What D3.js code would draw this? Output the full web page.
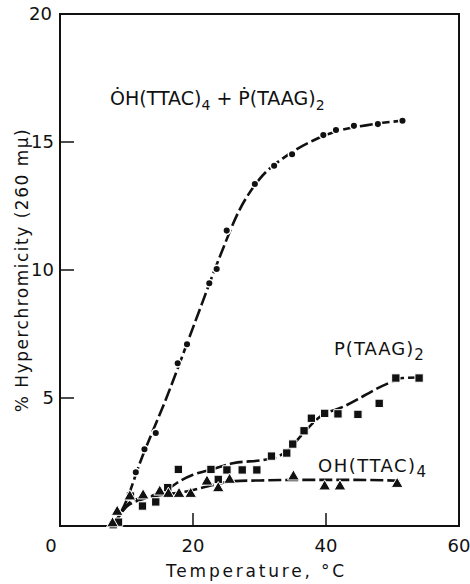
<!DOCTYPE html>
<html>
<head>
<meta charset="utf-8">
<script src="https://cdn.jsdelivr.net/npm/d3@7"></script>
<style>
  body { margin: 0; background: #fff; }
  text { font-family: "DejaVu Sans", sans-serif; fill: #111; }
</style>
</head>
<body>
<svg id="chart" width="470" height="584"></svg>
<script>
// measured points, [temperature °C, % hyperchromicity]
const mixPoints = [[8.0, 0.05], [11.4, 2.1], [12.7, 3.0], [14.4, 3.63], [17.7, 6.36], [19.1, 7.1],
  [22.45, 9.48], [23.56, 10.04], [25.07, 11.54], [29.3, 13.36], [32.2, 14.07], [34.9, 14.52],
  [39.6, 15.27], [41.5, 15.47], [44.2, 15.63], [47.8, 15.7], [51.5, 15.83]];
const taagPoints = [[8.0, 0.05], [8.8, 0.15], [10.6, 1.17], [12.4, 0.78], [14.4, 0.94], [16.2, 1.5],
  [17.8, 2.21], [22.7, 2.21], [23.8, 1.82], [25.1, 2.19], [27.4, 2.19], [29.6, 2.19],
  [31.8, 2.73], [34.1, 2.85], [35.0, 3.2], [36.7, 3.72], [37.8, 4.21], [39.8, 4.4],
  [41.8, 4.38], [44.8, 4.36], [48.0, 4.79], [50.5, 5.78], [54.0, 5.78]];
const ttacPoints = [[7.9, 0.1], [8.6, 0.55], [10.5, 1.15], [12.5, 1.19], [15.0, 1.34], [16.3, 1.25],
  [17.9, 1.25], [19.65, 1.25], [22.1, 1.73], [23.8, 1.47], [25.5, 1.8], [35.1, 1.93],
  [39.8, 1.54], [42.1, 1.54], [50.7, 1.64]];

// hand drawn fit curves
const mixFit = [[8, 0], [10, 1.0], [12, 2.45], [16, 5.0], [20, 7.75], [24, 10.5], [27, 12.35],
  [30, 13.55], [34, 14.45], [38, 15.05], [42, 15.45], [46, 15.65], [52, 15.85]];
const taagFit = [[8, 0], [10, 0.75], [13, 1.1], [16, 1.4], [18, 1.75], [20, 2.0], [22.7, 2.2],
  [26, 2.45], [31, 2.6], [34, 2.9], [36.5, 3.6], [39, 4.25], [42.6, 4.66], [49.6, 5.6],
  [51.5, 5.78], [54, 5.8]];
const ttacFit = [[8, 0], [11, 1.0], [15, 1.2], [19, 1.35], [23, 1.6], [26, 1.75], [30, 1.78],
  [36, 1.8], [44, 1.8], [51, 1.77]];

const xTicks = [0, 20, 40, 60];
const yTicks = [5, 10, 15, 20];

const svg = d3.select('#chart');
const margin = { left: 60, right: 11, top: 14, bottom: 58 };
const width = 470 - margin.left - margin.right;
const height = 584 - margin.top - margin.bottom;

const x = d3.scaleLinear().domain([0, 60]).range([0, width]);
const y = d3.scaleLinear().domain([0, 20]).range([height, 0]);

const g = svg.append('g').attr('transform', `translate(${margin.left},${margin.top})`);

// frame
g.append('rect')
    .attr('width', width).attr('height', height)
    .attr('fill', 'none').attr('stroke', '#111').attr('stroke-width', 2);

// inward ticks
g.selectAll('.ytick').data(yTicks.filter(d => d < 20)).enter()
    .append('line')
    .attr('x1', 0).attr('x2', 14)
    .attr('y1', d => y(d)).attr('y2', d => y(d))
    .attr('stroke', '#111').attr('stroke-width', 1.5);

g.selectAll('.xtick').data(xTicks.filter(d => d > 0 && d < 60)).enter()
    .append('line')
    .attr('x1', d => x(d)).attr('x2', d => x(d))
    .attr('y1', height).attr('y2', height - 13)
    .attr('stroke', '#111').attr('stroke-width', 1.5);

// tick labels
g.selectAll('.ylab').data(yTicks).enter()
    .append('text')
    .attr('x', d => d === 20 ? -8 : -6).attr('y', d => y(d) + 6)
    .attr('text-anchor', 'end')
    .style('font-size', '18px')
    .text(d => d);

g.selectAll('.xlab').data(xTicks).enter()
    .append('text')
    .attr('x', d => d === 0 ? x(d) - 9 : x(d)).attr('y', height + 26)
    .attr('text-anchor', 'middle')
    .style('font-size', '18px')
    .text(d => d);

// axis titles
g.append('text')
    .attr('x', width / 2 - 3).attr('y', height + 51)
    .attr('text-anchor', 'middle')
    .style('font-size', '17px')
    .style('letter-spacing', '2.8px')
    .text('Temperature, °C');

g.append('text')
    .attr('transform', `translate(-32,${height / 2}) rotate(-90)`)
    .attr('text-anchor', 'middle')
    .style('font-size', '17px')
    .style('letter-spacing', '1.5px')
    .text('% Hyperchromicity (260 mμ)');

// fit curves
const line = d3.line()
    .x(d => x(d[0])).y(d => y(d[1]))
    .curve(d3.curveMonotoneX);

[mixFit, taagFit, ttacFit].forEach(fit => {
    g.append('path')
        .datum(fit)
        .attr('d', line)
        .attr('fill', 'none')
        .attr('stroke', '#111')
        .attr('stroke-width', 2.6)
        .attr('stroke-dasharray', '13 4');
});

// markers, white halo to break the line
g.selectAll('.mix').data(mixPoints).enter()
    .append('circle')
    .attr('cx', d => x(d[0])).attr('cy', d => y(d[1]))
    .attr('r', 3.8)
    .attr('fill', '#111').attr('stroke', '#fff').attr('stroke-width', 1.5);

g.selectAll('.taag').data(taagPoints).enter()
    .append('path')
    .attr('d', d3.symbol().type(d3.symbolSquare).size(70))
    .attr('transform', d => `translate(${x(d[0])},${y(d[1])})`)
    .attr('fill', '#111').attr('stroke', '#fff').attr('stroke-width', 1);

g.selectAll('.ttac').data(ttacPoints).enter()
    .append('path')
    .attr('d', d3.symbol().type(d3.symbolTriangle).size(60))
    .attr('transform', d => `translate(${x(d[0])},${y(d[1])})`)
    .attr('fill', '#111').attr('stroke', '#fff').attr('stroke-width', 1);

// curve labels
const mixLabel = g.append('text')
    .attr('x', 50).attr('y', 91)
    .style('font-size', '19px');
mixLabel.append('tspan').text('Ȯ');
mixLabel.append('tspan').text('H(TTAC)');
mixLabel.append('tspan').attr('dy', 5).style('font-size', '14px').text('4');
mixLabel.append('tspan').attr('dy', -5).text(' + Ṗ(TAAG)');
mixLabel.append('tspan').attr('dy', 5).style('font-size', '14px').text('2');

const taagLabel = g.append('text')
    .attr('x', 274).attr('y', 341)
    .style('font-size', '18px')
    .style('letter-spacing', '1px');
taagLabel.append('tspan').text('P(TAAG)');
taagLabel.append('tspan').attr('dy', 5).style('font-size', '15px').text('2');

const ttacLabel = g.append('text')
    .attr('x', 258).attr('y', 458)
    .style('font-size', '18px')
    .style('letter-spacing', '1.5px');
ttacLabel.append('tspan').text('OH(TTAC)');
ttacLabel.append('tspan').attr('dy', 5).style('font-size', '15px').text('4');
</script>
</body>
</html>
